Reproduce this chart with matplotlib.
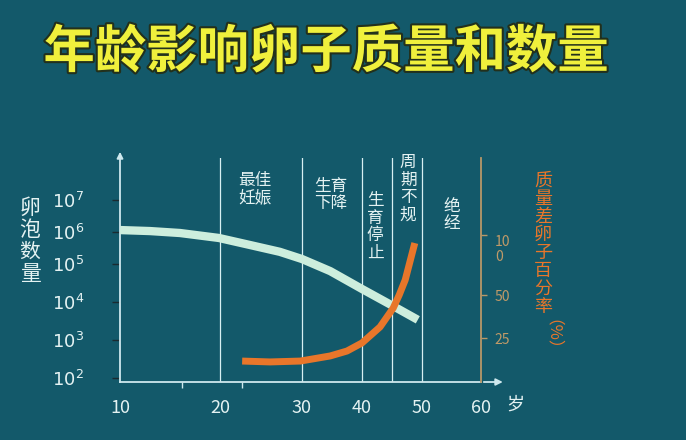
import numpy as np
import matplotlib
matplotlib.use('Agg')
import matplotlib.pyplot as plt
import matplotlib.patheffects as pe
from matplotlib.transforms import blended_transform_factory

plt.rcParams['font.family'] = ['Noto Sans CJK SC', 'DejaVu Sans']
plt.rcParams['mathtext.fontset'] = 'dejavusans'

# Data
age_follicle = [10, 13, 16, 19.9, 23.7, 27.3, 30, 34.7, 40, 45.2, 49.3]
follicle_count = [1.15e6, 1.07e6, 9.3e5, 6.5e5, 3.9e5, 2.4e5, 1.43e5, 6.5e4, 2.2e4, 7.8e3, 3.4e3]

age_bad = [22.7, 26.1, 29.8, 34.7, 37.5, 40, 43, 45.2, 46.2, 47.2, 48.8]
bad_pct = [11.9, 11.4, 11.9, 14.8, 17.6, 22.2, 31.4, 42.4, 50, 62.5, 93.3]

age_ticks = [10, 20, 30, 40, 50, 60]
count_ticks = [1e2, 1e3, 1e4, 1e5, 1e6, 1e7]
pct_ticks = [25, 50, 100]
pct_labels = ['25', '50', '10\n0']

stage_ages = [20, 30, 40, 45, 50]
stage_names = ['最佳\n妊娠', '生育\n下降', '生\n育\n停\n止', '周\n期\n不\n规', '绝\n经']

# Colours
bg = '#13596a'
light = '#e4f2f2'
mint = '#cdeedd'
orange = '#e8762a'
tan = '#b89868'

# Hand-drawn axes: piecewise scales (knots in pixel units of the picture)
x_knots = [-100, 10, 20, 30, 40, 50, 60, 200]
x_px = [-980, 120, 220, 302, 362, 422, 481, 1307]

def x_fwd(v):
    return np.interp(v, x_knots, x_px)

def x_inv(p):
    return np.interp(p, x_px, x_knots)

log_knots = [0, 2, 3, 4, 5, 6, 7, 10]
log_px = [-454, -378, -340, -302, -264, -232, -200, -104]

def y_fwd(v):
    v = np.clip(np.asarray(v, dtype=float), 1e-300, None)
    return np.interp(np.log10(v), log_knots, log_px)

def y_inv(p):
    return 10 ** np.interp(p, log_px, log_knots)

pct_knots = [-100, 0, 25, 50, 100, 300]
pct_px = [-558, -382, -338, -295, -235, 5]

def p_fwd(v):
    return np.interp(v, pct_knots, pct_px)

def p_inv(p):
    return np.interp(p, pct_px, pct_knots)

W, H = 686, 440
top_px, bot_px, left_px, right_px = 158, 382, 120, 481

fig = plt.figure(figsize=(W / 100, H / 100), dpi=100)
fig.patch.set_facecolor(bg)
ax = fig.add_axes([left_px / W, 1 - bot_px / H, (right_px - left_px) / W, (bot_px - top_px) / H])
ax.set_facecolor('none')

ax.set_xscale('function', functions=(x_fwd, x_inv))
ax.set_yscale('function', functions=(y_fwd, y_inv))
ax.set_xlim(10, 60)
ax.set_ylim(y_inv(-bot_px), y_inv(-top_px))

for s in ['top', 'right']:
    ax.spines[s].set_visible(False)
for s in ['left', 'bottom']:
    ax.spines[s].set_color('#cfe9ee')
    ax.spines[s].set_linewidth(1.3)

# axis arrows
ax.annotate('', xy=(1.068, 0), xytext=(1.0, 0), xycoords='axes fraction',
            arrowprops=dict(arrowstyle='-|>', color='#cfe9ee', lw=1.3, mutation_scale=10))
ax.annotate('', xy=(0, 1.04), xytext=(0, 0.99), xycoords='axes fraction',
            arrowprops=dict(arrowstyle='-|>', color='#cfe9ee', lw=1.3, mutation_scale=9))

# x ticks
ax.set_xticks(age_ticks)
ax.set_xticklabels([str(a) for a in age_ticks])
ax.set_xticks([16.2, 22.7, 30, 40, 60], minor=True)
ax.tick_params(axis='x', which='major', length=0, pad=12, labelsize=13, labelcolor=light)
ax.tick_params(axis='x', which='minor', length=4, width=1, color='#cfe9ee', direction='out')

# y ticks
ax.yaxis.set_major_locator(matplotlib.ticker.FixedLocator(count_ticks))
ax.yaxis.set_minor_locator(matplotlib.ticker.NullLocator())
ax.set_yticklabels([r'$10^{%d}$' % int(np.log10(c)) for c in count_ticks])
ax.tick_params(axis='y', length=6, width=1, color='#1a2a30', direction='out', pad=20,
               labelsize=13, labelcolor=light)

# stage lines and names
for a in stage_ages:
    ax.axvline(a, ymin=0, ymax=1.0, color='#d8f0f2', lw=0.9)
trans = blended_transform_factory(ax.transData, ax.transAxes)
name_x = [24.3, 34.8, 42.2, 47.7, 55.1]
name_y = [(bot_px - 189) / (bot_px - top_px), (bot_px - 195) / (bot_px - top_px),
          (bot_px - 227) / (bot_px - top_px), (bot_px - 189) / (bot_px - top_px),
          (bot_px - 215) / (bot_px - top_px)]
for nm, xx, yy in zip(stage_names, name_x, name_y):
    ax.text(xx, yy, nm, transform=trans, ha='center', va='center', color=light,
            fontsize=12, linespacing=1.05)

# follicle curve
ax.plot(age_follicle, follicle_count, color=mint, lw=6, solid_capstyle='butt',
        solid_joinstyle='round', zorder=3)

# right axis: percentage of poor-quality eggs
ax2 = ax.twinx()
ax2.set_yscale('function', functions=(p_fwd, p_inv))
ax2.set_ylim(p_inv(-bot_px), p_inv(-top_px))
for s in ['top', 'left', 'bottom']:
    ax2.spines[s].set_visible(False)
ax2.spines['right'].set_color(tan)
ax2.spines['right'].set_linewidth(1.3)
ax2.yaxis.set_major_locator(matplotlib.ticker.FixedLocator(pct_ticks))
ax2.yaxis.set_minor_locator(matplotlib.ticker.NullLocator())
ax2.set_yticklabels(pct_labels)
ax2.tick_params(axis='y', length=4, width=1, color=tan, direction='out', pad=6,
                labelsize=10, labelcolor='#c09a68')
for lbl in ax2.get_yticklabels():
    lbl.set_linespacing(1.1)
    if '\n' in lbl.get_text():
        lbl.set_va('top')
ax2.plot(age_bad, bad_pct, color=orange, lw=5, solid_capstyle='butt',
         solid_joinstyle='round', zorder=4)

# labels
fig.text(30 / W, 1 - 241 / H, '卵\n泡\n数\n量', ha='center', va='center', color=light,
         fontsize=15, linespacing=1.0)
fig.text(543 / W, 1 - 244 / H, '质\n量\n差\n卵\n子\n百\n分\n率', ha='center', va='center',
         color=orange, fontsize=13, linespacing=1.0)
fig.text(543 / W, 1 - 343 / H, '（%）', ha='center', va='center', color=orange,
         fontsize=12, rotation=-90)
fig.text(515 / W, 1 - 405 / H, '岁', ha='center', va='center', color=light, fontsize=13)

fig.text(326 / W, 1 - 52 / H, '年龄影响卵子质量和数量', ha='center', va='center',
         color='#f0f03c', fontsize=37, fontweight='bold',
         path_effects=[pe.withStroke(linewidth=3, foreground='#22301c')])

fig.savefig('out.png', dpi=100, facecolor=bg)
